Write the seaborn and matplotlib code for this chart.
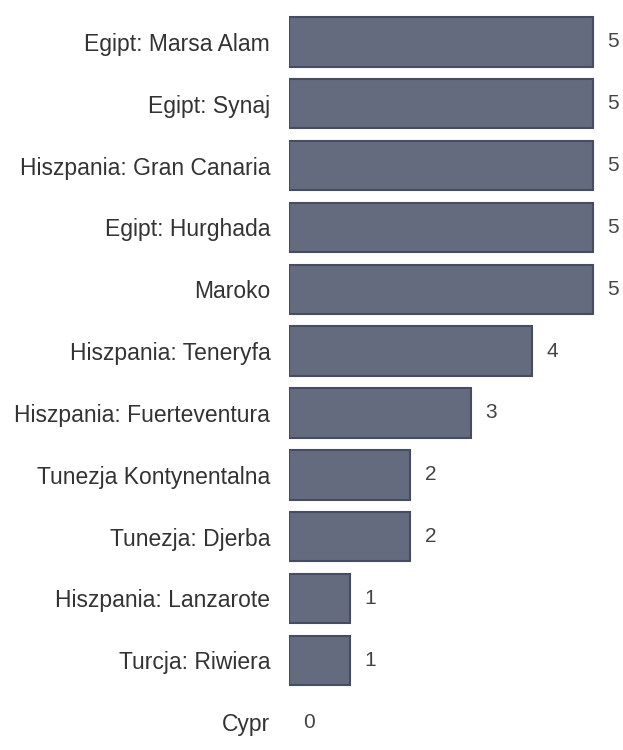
import pandas as pd
import seaborn as sns
import matplotlib
matplotlib.use("Agg")
import matplotlib.pyplot as plt

# destinations and their counts
destinations = [
    "Egipt: Marsa Alam", "Egipt: Synaj", "Hiszpania: Gran Canaria",
    "Egipt: Hurghada", "Maroko", "Hiszpania: Teneryfa",
    "Hiszpania: Fuerteventura", "Tunezja Kontynentalna", "Tunezja: Djerba",
    "Hiszpania: Lanzarote", "Turcja: Riwiera", "Cypr",
]
counts = [5, 5, 5, 5, 5, 4, 3, 2, 2, 1, 1, 0]

df = pd.DataFrame({"Kierunek": destinations, "Liczba": counts})

sns.set_theme(style="white")
plt.rcParams["font.family"] = ["Liberation Sans", "DejaVu Sans"]

fig = plt.figure(figsize=(6.23, 7.5), dpi=100)
ax = fig.add_axes([289 / 623, 0.0, 334 / 623, 739 / 750])

sns.barplot(
    data=df, x="Liczba", y="Kierunek", ax=ax,
    color="#646b7e", edgecolor="#474d60", linewidth=1.5,
    width=0.8, saturation=1,
)

# hide the outline of empty bars
for patch in ax.patches:
    if patch.get_width() == 0:
        patch.set_linewidth(0)

# value labels
for i, v in enumerate(counts):
    ax.text(v + 0.33, i, str(v), va="center", ha="center",
            fontsize=15, color="#444444")

ax.set_xlim(0, 5.5)
ax.set_ylim(len(destinations) - 0.55, -0.5)
ax.set_xlabel("")
ax.set_ylabel("")
ax.set_xticks([])
ax.tick_params(axis="y", length=0, pad=13.5, labelsize=16.5, labelcolor="#333333")
sns.despine(ax=ax, left=True, bottom=True)

fig.savefig("out.png", dpi=100)
